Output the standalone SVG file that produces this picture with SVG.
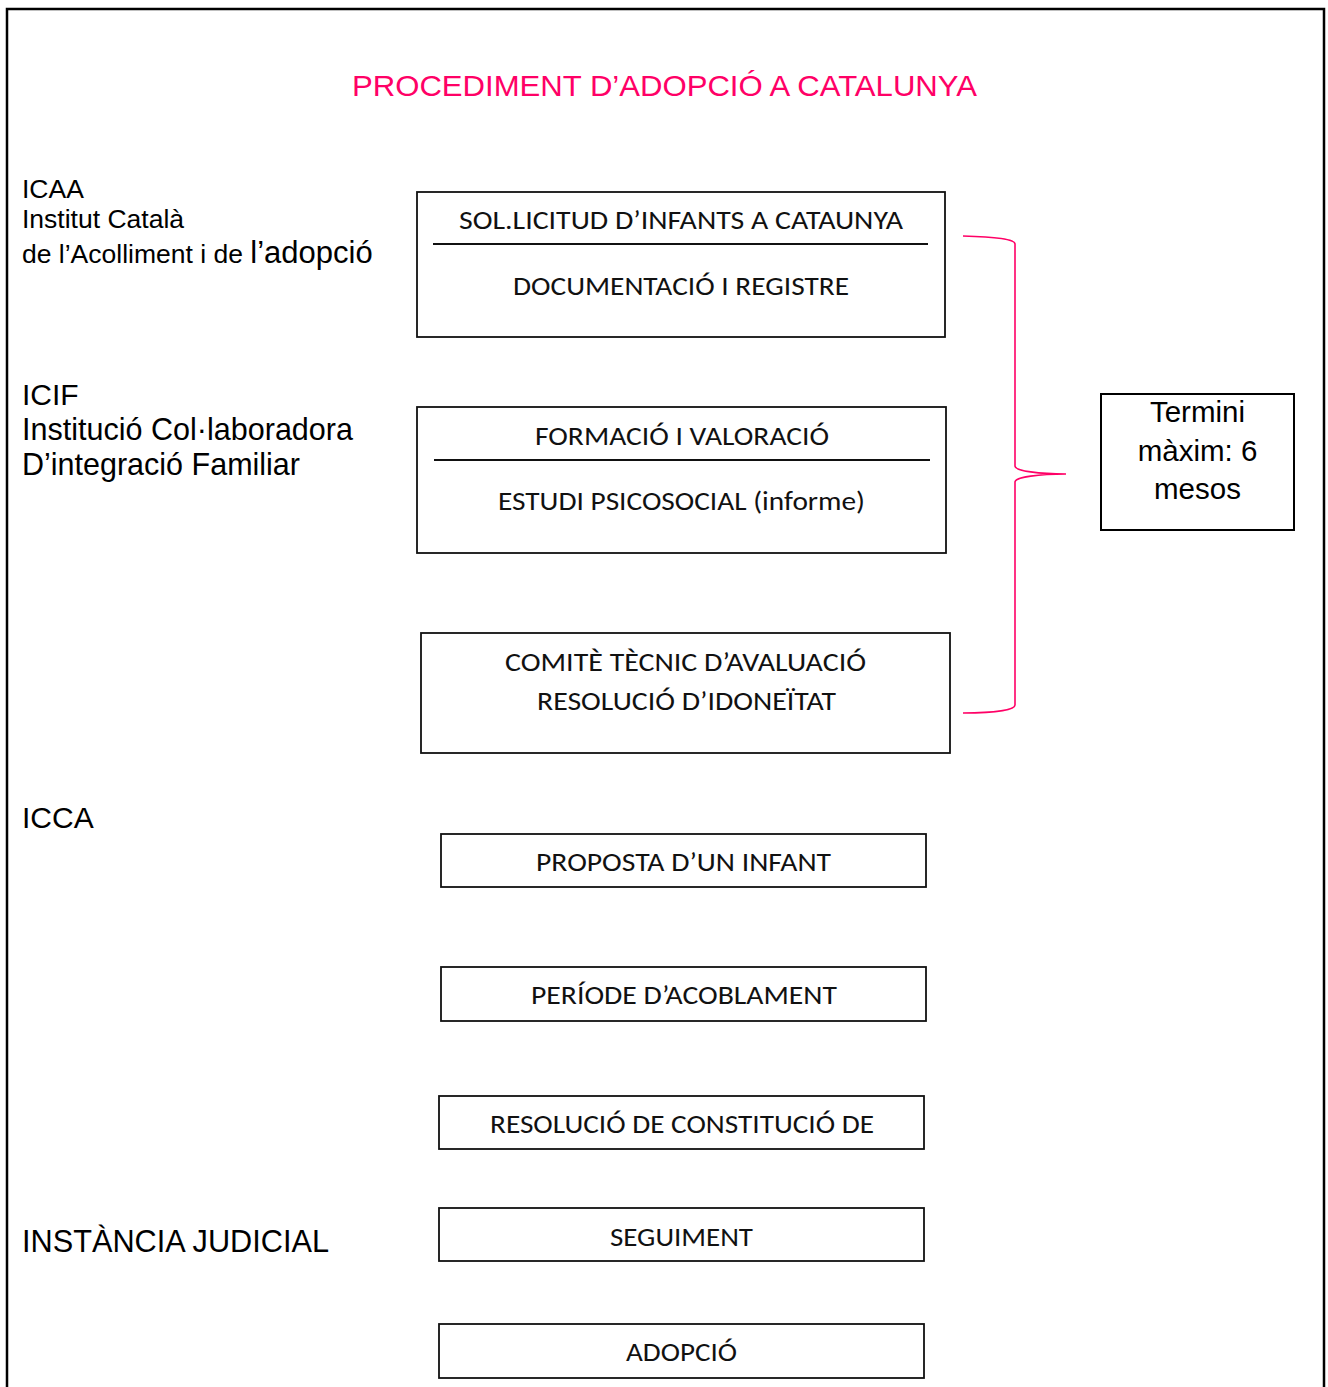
<svg xmlns="http://www.w3.org/2000/svg" width="1328" height="1387" viewBox="0 0 1328 1387">
<style>
.frame{fill:none;stroke:#000;stroke-width:2.5}
.box{fill:#fff;stroke:#111;stroke-width:1.8}
.div{stroke:#111;stroke-width:1.8}
.bt{font-family:Carlito,Lato,"Liberation Sans",sans-serif;font-size:26px;fill:#111;text-anchor:middle}
.lab{font-family:"Liberation Sans",Arial,sans-serif;fill:#000}
.title{font-family:"Liberation Sans",Arial,sans-serif;font-size:30px;fill:#FF0066;text-anchor:middle}
.brace{fill:none;stroke:#FF0066;stroke-width:1.6}
.tm{font-family:"Liberation Sans",Arial,sans-serif;font-size:29.5px;fill:#000;text-anchor:middle}
</style>
<rect width="1328" height="1387" fill="#fff"/>
<path class="frame" d="M7,1390 L7,9 L1324,9 L1324,1390"/>
<text class="title" x="664.5" y="96" textLength="625" lengthAdjust="spacingAndGlyphs">PROCEDIMENT D’ADOPCIÓ A CATALUNYA</text>

<g id="label-icaa">
<text class="lab" x="22" y="198" font-size="26.5">ICAA</text>
<text class="lab" x="22" y="228" font-size="26.5" textLength="162" lengthAdjust="spacingAndGlyphs">Institut Català</text>
<text class="lab" x="22" y="263" font-size="26.5">de l’Acolliment i de <tspan font-size="31">l’adopció</tspan></text>
</g>
<g id="label-icif">
<text class="lab" x="22" y="405" font-size="30">ICIF</text>
<text class="lab" x="22" y="440" font-size="30.5" textLength="331" lengthAdjust="spacingAndGlyphs">Institució Col·laboradora</text>
<text class="lab" x="22" y="475" font-size="30.5" textLength="278" lengthAdjust="spacingAndGlyphs">D’integració Familiar</text>
</g>
<g id="label-icca">
<text class="lab" x="22" y="828" font-size="30">ICCA</text>
</g>
<g id="label-judicial">
<text class="lab" x="22" y="1252" font-size="30.5" textLength="307" lengthAdjust="spacingAndGlyphs">INSTÀNCIA JUDICIAL</text>
</g>

<g id="box-solicitud">
<rect class="box" x="417" y="192" width="528" height="145"/>
<line class="div" x1="433" y1="244" x2="928" y2="244"/>
<text class="bt" x="681" y="229" textLength="444" lengthAdjust="spacingAndGlyphs">SOL.LICITUD D’INFANTS A CATAUNYA</text>
<text class="bt" x="681" y="295" textLength="336" lengthAdjust="spacingAndGlyphs">DOCUMENTACIÓ I REGISTRE</text>
</g>
<g id="box-formacio">
<rect class="box" x="417" y="407" width="529" height="146"/>
<line class="div" x1="434" y1="460" x2="930" y2="460"/>
<text class="bt" x="682" y="445" textLength="294" lengthAdjust="spacingAndGlyphs">FORMACIÓ I VALORACIÓ</text>
<text class="bt" x="681.5" y="510" textLength="367" lengthAdjust="spacingAndGlyphs">ESTUDI PSICOSOCIAL (informe)</text>
</g>
<g id="box-comite">
<rect class="box" x="421" y="633" width="529" height="120"/>
<text class="bt" x="685.5" y="671" textLength="361" lengthAdjust="spacingAndGlyphs">COMITÈ TÈCNIC D’AVALUACIÓ</text>
<text class="bt" x="686.5" y="710" textLength="299" lengthAdjust="spacingAndGlyphs">RESOLUCIÓ D’IDONEÏTAT</text>
</g>
<g id="box-proposta">
<rect class="box" x="441" y="834" width="485" height="53"/>
<text class="bt" x="683.5" y="871" textLength="295" lengthAdjust="spacingAndGlyphs">PROPOSTA D’UN INFANT</text>
</g>
<g id="box-periode">
<rect class="box" x="441" y="967" width="485" height="54"/>
<text class="bt" x="684" y="1004" textLength="306" lengthAdjust="spacingAndGlyphs">PERÍODE D’ACOBLAMENT</text>
</g>
<g id="box-resolucio">
<rect class="box" x="439" y="1096" width="485" height="53"/>
<text class="bt" x="682" y="1133" textLength="384" lengthAdjust="spacingAndGlyphs">RESOLUCIÓ DE CONSTITUCIÓ DE</text>
</g>
<g id="box-seguiment">
<rect class="box" x="439" y="1208" width="485" height="53"/>
<text class="bt" x="681.5" y="1246" textLength="143" lengthAdjust="spacingAndGlyphs">SEGUIMENT</text>
</g>
<g id="box-adopcio">
<rect class="box" x="439" y="1324" width="485" height="54"/>
<text class="bt" x="681.5" y="1361" textLength="111" lengthAdjust="spacingAndGlyphs">ADOPCIÓ</text>
</g>

<g id="connectors">
<path class="brace" d="M963,236 C995,237 1015,239 1015,244 L1015,466 C1015,471 1040,474 1066,474 C1040,474 1015,477 1015,482 L1015,705 C1015,710 995,713 963,713"/>
</g>

<g id="box-termini">
<rect x="1101" y="394" width="193" height="136" fill="#fff" stroke="#000" stroke-width="2"/>
<text class="tm" x="1197.5" y="422">Termini</text>
<text class="tm" x="1197.5" y="461">màxim: 6</text>
<text class="tm" x="1197.5" y="499">mesos</text>
</g>
</svg>
